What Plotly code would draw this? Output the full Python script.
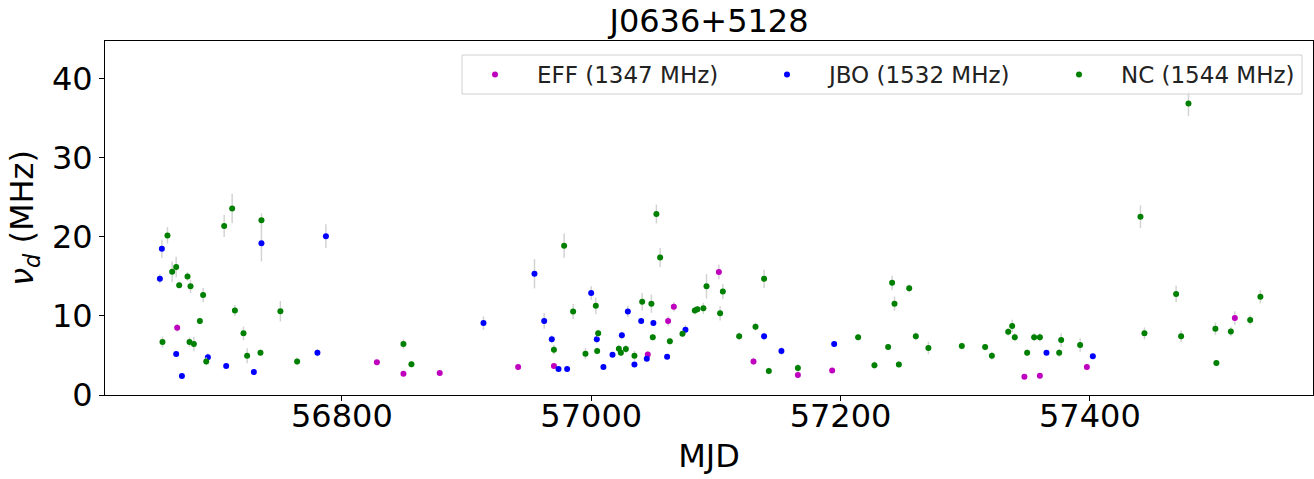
import plotly.graph_objects as go

# EFF (1347 MHz)
eff_mjd = [56667.9, 56828.1, 56849.4, 56878.5, 56941.4, 56970.1, 57045.4, 57061.7, 57066.3,
           57102.4, 57130.2, 57165.8, 57193.3, 57347.5, 57359.9, 57397.6, 57516.3]
eff_nu = [8.5, 4.13, 2.7, 2.78, 3.54, 3.67, 5.14, 9.37, 11.18,
          15.57, 4.25, 2.53, 3.11, 2.32, 2.44, 3.54, 9.75]
eff_err = [0.5, 0.3, 0.3, 0.25, 0.4, 0.35, 0.4, 0.6, 0.6,
           0.9, 0.5, 0.3, 0.3, 0.25, 0.35, 0.4, 0.85]

# JBO (1532 MHz)
jbo_mjd = [56654.0, 56655.6, 56667.1, 56671.7, 56692.5, 56707.2, 56729.4, 56735.5, 56780.4,
           56787.2, 56913.6, 56954.5, 56962.3, 56968.4, 56973.8, 56980.7, 57000.0, 57004.5,
           57009.8, 57017.1, 57024.6, 57029.4, 57034.7, 57040.1, 57044.6, 57049.9, 57060.9,
           57075.6, 57138.7, 57152.6, 57194.9, 57365.2, 57402.4]
jbo_nu = [14.7, 18.5, 5.2, 2.4, 4.77, 3.67, 2.9, 19.2, 5.35,
          20.1, 9.1, 15.35, 9.37, 7.04, 3.29, 3.29, 12.9, 7.04,
          3.54, 5.1, 7.55, 10.58, 3.87, 9.37, 4.6, 9.1, 4.85,
          8.27, 7.42, 5.57, 6.45, 5.35, 4.89]
jbo_err = [0.6, 1.15, 0.3, 0.2, 0.5, 0.3, 0.25, 2.3, 0.5,
           1.5, 0.85, 1.86, 1.0, 0.5, 0.3, 0.3, 0.85, 0.5,
           0.3, 0.3, 0.5, 0.7, 0.3, 0.4, 0.3, 0.4, 0.3,
           0.6, 0.5, 0.5, 0.3, 0.3, 0.3]

# NC (1544 MHz)
nc_mjd = [56656.1, 56660.1, 56663.9, 56667.1, 56669.5, 56676.2, 56677.8, 56678.6, 56681.3,
          56686.1, 56688.7, 56691.2, 56705.6, 56712.0, 56714.2, 56721.1, 56724.0, 56734.7,
          56735.5, 56750.7, 56764.1, 56849.4, 56855.8, 56970.1, 56978.3, 56985.5, 56995.4,
          57003.7, 57004.8, 57005.6, 57022.2, 57023.8, 57027.8, 57034.7, 57040.9, 57048.3,
          57049.4, 57052.3, 57055.3, 57063.1, 57073.2, 57083.1, 57085.2, 57090.0, 57092.5,
          57103.4, 57105.6, 57118.7, 57131.8, 57138.7, 57142.5, 57165.8, 57214.1, 57227.2,
          57238.2, 57241.4, 57243.3, 57246.8, 57255.1, 57260.4, 57270.5, 57297.3, 57316.0,
          57321.4, 57334.5, 57337.7, 57339.8, 57349.7, 57355.3, 57359.9, 57375.4, 57377.0,
          57392.2, 57440.6, 57443.8, 57469.2, 57473.2, 57479.1, 57500.7, 57501.5, 57513.1,
          57528.6, 57536.8]
nc_nu = [6.7, 20.2, 15.6, 16.2, 13.9, 15.0, 6.7, 13.75, 6.45,
         9.37, 12.65, 4.25, 21.4, 23.6, 10.7, 7.8, 4.97, 5.35,
         22.1, 10.6, 4.25, 6.45, 3.9, 5.73, 18.9, 10.58, 5.23,
         11.3, 5.57, 7.8, 5.86, 5.35, 5.82, 4.97, 11.8, 11.56,
         7.3, 22.9, 17.4, 6.8, 7.76, 10.7, 10.84, 10.97, 13.75,
         10.33, 13.1, 7.42, 8.65, 14.7, 3.04, 3.42, 7.3, 3.75,
         6.07, 14.2, 11.56, 3.87, 13.5, 7.42, 5.95, 6.2, 6.07,
         4.97, 8.0, 8.73, 7.3, 5.35, 7.3, 7.3, 5.35, 6.96,
         6.33, 22.57, 7.8, 12.78, 7.42, 36.9, 8.39, 4.05, 8.05,
         9.49, 12.44]
nc_err = [0.7, 1.05, 1.3, 1.3, 0.4, 0.55, 0.6, 0.85, 0.9,
          0.4, 0.9, 0.5, 1.4, 1.86, 0.7, 0.85, 0.95, 0.4,
          0.9, 1.3, 0.5, 0.6, 0.4, 0.6, 1.54, 0.95, 0.7,
          1.05, 0.4, 0.5, 0.5, 0.4, 0.5, 0.6, 1.1, 1.15,
          0.4, 1.2, 1.2, 0.4, 0.4, 0.5, 0.4, 0.7, 1.55,
          0.9, 0.95, 0.5, 0.5, 1.15, 0.4, 0.5, 0.4, 0.5,
          0.3, 0.9, 0.9, 0.4, 0.5, 0.5, 0.8, 0.4, 0.4,
          0.5, 0.5, 0.8, 0.5, 0.4, 0.5, 0.5, 0.5, 0.85,
          0.85, 1.43, 0.76, 1.05, 0.74, 1.58, 0.78, 0.4, 0.6,
          0.6, 0.85]

series = [
    ("EFF (1347 MHz)", eff_mjd, eff_nu, eff_err, "#bf00bf"),
    ("JBO (1532 MHz)", jbo_mjd, jbo_nu, jbo_err, "#0000ff"),
    ("NC (1544 MHz)", nc_mjd, nc_nu, nc_err, "#008000"),
]

FONT = "DejaVu Sans"
W, H = 1314, 479
ML, MR, MT, MB = 105, 1, 41, 84
PW, PH = W - ML - MR, H - MT - MB

def px_x(p):
    return (p - ML) / PW

def px_y(p):
    return (H - MB - p) / PH

fig = go.Figure()
for name, x, y, e, c in series:
    fig.add_trace(go.Scatter(
        x=x, y=y, mode="markers", name="\u00a0\u00a0\u00a0" + name,
        marker=dict(color=c, size=6, line=dict(width=0)),
        error_y=dict(type="data", array=e, visible=True, color="#d3d3d3",
                     thickness=1.5, width=0),
    ))

# legend frame (light grey) drawn as a shape behind the legend entries
fig.add_shape(type="rect", xref="paper", yref="paper",
              x0=px_x(462), x1=px_x(1302), y0=px_y(94), y1=px_y(55), layer="above",
              line=dict(color="#d0d0d0", width=1),
              fillcolor="rgba(255,255,255,0.8)")

fig.update_layout(
    width=W, height=H,
    margin=dict(l=ML, r=MR, t=MT, b=MB, autoexpand=False),
    paper_bgcolor="white", plot_bgcolor="white",
    font=dict(family=FONT, color="black"),
    title=dict(text="J0636+5128", font=dict(size=32, family=FONT, color="black"),
               x=(105 + 1313) / 2 / 1314, xanchor="center",
               yref="container", y=1 - 21 / 479, yanchor="middle", automargin=False),
    showlegend=True,
    legend=dict(orientation="h", x=px_x(475), xanchor="left",
                y=px_y(74.5), yanchor="middle",
                bgcolor="rgba(0,0,0,0)", borderwidth=0,
                font=dict(size=23, family=FONT, color="#222222"),
                entrywidth=247, entrywidthmode="pixels",
                itemsizing="trace"),
)

fig.update_xaxes(
    range=[56610, 57579],
    tickvals=[56800, 57000, 57200, 57400], tickformat="d",
    ticks="outside", ticklen=5, tickwidth=1, tickcolor="black",
    showline=True, linecolor="black", linewidth=1, mirror=True,
    showgrid=False, zeroline=False, automargin=False,
    ticklabelstandoff=-12,
    tickfont=dict(size=32, family=FONT, color="black"),
    title=dict(text="MJD", font=dict(size=32, family=FONT, color="black"), standoff=10),
)
fig.update_yaxes(
    range=[0, 44.8],
    tickvals=[0, 10, 20, 30, 40],
    ticks="outside", ticklen=5, tickwidth=1, tickcolor="black",
    showline=True, linecolor="black", linewidth=1, mirror=True,
    showgrid=False, zeroline=False, automargin=False,
    tickfont=dict(size=32, family=FONT, color="black"),
    title=dict(text="<i>ν</i><sub><i>d</i></sub> (MHz)",
               font=dict(size=32, family=FONT, color="black"), standoff=8),
)

fig.write_html("out.html", config={"displayModeBar": False},
               post_script="document.body.style.margin='0';")
